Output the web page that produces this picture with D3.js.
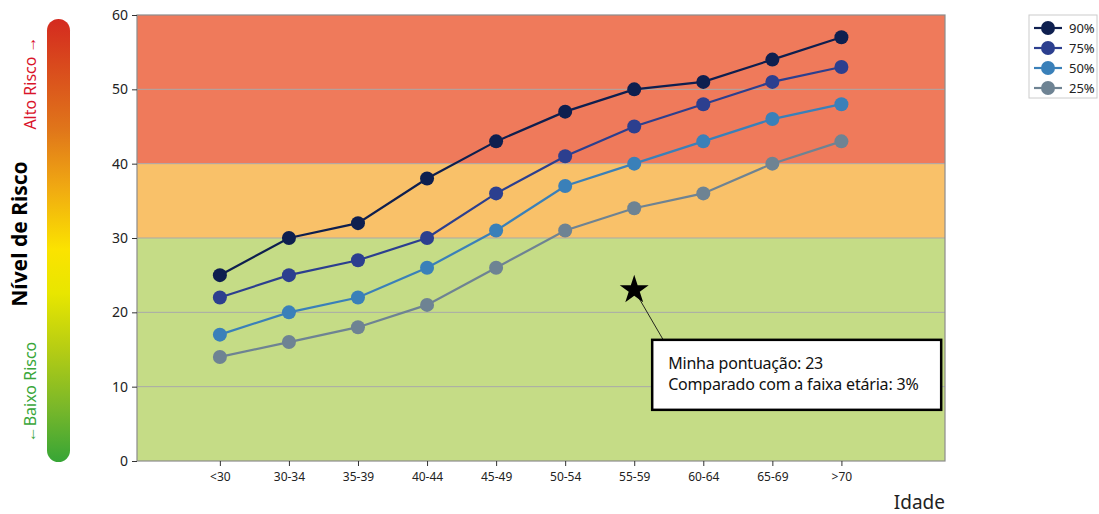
<!DOCTYPE html>
<html>
<head>
<meta charset="utf-8">
<script src="https://cdn.jsdelivr.net/npm/d3@7"></script>
<style>
  body { margin: 0; background: #fff; font-family: "Noto Sans", sans-serif; }
  .tick text { font-family: "Noto Sans", sans-serif; }
</style>
</head>
<body>
<div id="container"></div>
<script>
// data
var ageGroups = ["<30", "30-34", "35-39", "40-44", "45-49", "50-54", "55-59", "60-64", "65-69", ">70"];
var p90 = [25, 30, 32, 38, 43, 47, 50, 51, 54, 57];
var p75 = [22, 25, 27, 30, 36, 41, 45, 48, 51, 53];
var p50 = [17, 20, 22, 26, 31, 37, 40, 43, 46, 48];
var p25 = [14, 16, 18, 21, 26, 31, 34, 36, 40, 43];
var seriesNames = ["90%", "75%", "50%", "25%"];
var seriesColors = ["#0e1f4f", "#2c3f8f", "#3a80b9", "#6e8393"];
var yTicks = [0, 10, 20, 30, 40, 50, 60];
var bands = [[0, 30, "#c5dc86"], [30, 40, "#f9c169"], [40, 60, "#ef7a5b"]];
var myScore = 23, myGroup = "55-59";
var noteLines = ["Minha pontuação: 23", "Comparado com a faixa etária: 3%"];

var width = 1099, height = 514;
var margin = {top: 15, right: 154, bottom: 53, left: 137};
var w = width - margin.left - margin.right;
var h = height - margin.top - margin.bottom;

var svg = d3.select("#container").append("svg")
    .attr("width", width).attr("height", height);

var g = svg.append("g").attr("transform", "translate(" + margin.left + "," + margin.top + ")");

var x = d3.scaleLinear().domain([-1.2, 10.5]).range([0, w]);
var y = d3.scaleLinear().domain([0, 60]).range([h, 0]);

// risk bands
g.selectAll(".band").data(bands).enter().append("rect")
    .attr("x", 0).attr("width", w)
    .attr("y", function(d) { return y(d[1]); })
    .attr("height", function(d) { return y(d[0]) - y(d[1]); })
    .attr("fill", function(d) { return d[2]; });

// grid
g.selectAll(".grid").data(yTicks.slice(1, -1)).enter().append("line")
    .attr("x1", 0).attr("x2", w)
    .attr("y1", function(d) { return y(d); }).attr("y2", function(d) { return y(d); })
    .attr("stroke", "#a9a9a9").attr("stroke-width", 1);

// frame
g.append("rect").attr("width", w).attr("height", h)
    .attr("fill", "none").attr("stroke", "#8c8c8c").attr("stroke-width", 1.2);

// axes
var yAxis = d3.axisLeft(y).tickValues(yTicks).tickSize(5).tickPadding(4);
var xAxis = d3.axisBottom(x).tickValues(d3.range(ageGroups.length))
    .tickFormat(function(i) { return ageGroups[i]; }).tickSize(5).tickPadding(6);

var ya = g.append("g").call(yAxis);
ya.select(".domain").remove();
ya.selectAll("line").attr("stroke", "#333");
ya.selectAll("text").style("font-size", "14px").attr("fill", "#222");

var xa = g.append("g").attr("transform", "translate(0," + h + ")").call(xAxis);
xa.select(".domain").remove();
xa.selectAll("line").attr("stroke", "#333");
xa.selectAll("text").style("font-size", "12px").attr("fill", "#222");

g.append("text").attr("x", w).attr("y", h + 48).attr("text-anchor", "end")
    .style("font-size", "19px").attr("fill", "#222").text("Idade");

// lines
var allSeries = [p90, p75, p50, p25];
var line = d3.line().x(function(d, i) { return x(i); }).y(function(d) { return y(d); });

allSeries.slice().reverse().forEach(function(s, k) {
    var idx = allSeries.length - 1 - k;
    g.append("path").datum(s).attr("d", line)
        .attr("fill", "none").attr("stroke", seriesColors[idx]).attr("stroke-width", 2.2);
    g.selectAll(".pt" + idx).data(s).enter().append("circle")
        .attr("cx", function(d, i) { return x(i); })
        .attr("cy", function(d) { return y(d); })
        .attr("r", 7).attr("fill", seriesColors[idx]);
});

// my score star + annotation
var sx = x(ageGroups.indexOf(myGroup)), sy = y(myScore);
var boxX = x(6.26), boxY = y(16.3), boxW = 289, boxH = 70;
g.append("line").attr("x1", sx).attr("y1", sy).attr("x2", sx + 29).attr("y2", boxY)
    .attr("stroke", "#111").attr("stroke-width", 0.9);
g.append("path").attr("d", d3.symbol().type(d3.symbolStar).size(260)())
    .attr("transform", "translate(" + sx + "," + sy + ")").attr("fill", "#000");
g.append("rect").attr("x", boxX).attr("y", boxY).attr("width", boxW).attr("height", boxH)
    .attr("fill", "#fff").attr("stroke", "#000").attr("stroke-width", 2.5);
g.selectAll(".note").data(noteLines).enter().append("text")
    .attr("x", boxX + 16).attr("y", function(d, i) { return boxY + 29 + i * 21; })
    .style("font-size", "16px").style("letter-spacing", "-0.2px")
    .attr("fill", "#111").text(function(d) { return d; });

// legend
var lg = svg.append("g").attr("transform", "translate(1029,15)");
lg.append("rect").attr("width", 68).attr("height", 83)
    .attr("fill", "#fff").attr("stroke", "#ccc").attr("stroke-width", 1);
seriesNames.forEach(function(n, i) {
    var yy = 13 + i * 20;
    lg.append("line").attr("x1", 5).attr("x2", 33).attr("y1", yy).attr("y2", yy)
        .attr("stroke", seriesColors[i]).attr("stroke-width", 2.2);
    lg.append("circle").attr("cx", 19).attr("cy", yy).attr("r", 7).attr("fill", seriesColors[i]);
    lg.append("text").attr("x", 40).attr("y", yy + 5).style("font-size", "13px")
        .attr("fill", "#222").text(n);
});

// risk gradient bar
var defs = svg.append("defs");
var grad = defs.append("linearGradient").attr("id", "riskGrad")
    .attr("x1", 0).attr("y1", 0).attr("x2", 0).attr("y2", 1);
[[0, "#d42a1f"], [0.25, "#e0761a"], [0.38, "#f0a912"], [0.52, "#fbe300"], [0.62, "#e8e600"],
 [0.75, "#b4cc14"], [0.88, "#78b72a"], [1, "#37a536"]].forEach(function(s) {
    grad.append("stop").attr("offset", s[0]).attr("stop-color", s[1]);
});
svg.append("rect").attr("x", 47).attr("y", 19).attr("width", 23).attr("height", 443)
    .attr("rx", 11.5).attr("fill", "url(#riskGrad)");

svg.append("text").attr("transform", "translate(27,234) rotate(-90)")
    .attr("text-anchor", "middle").style("font-size", "21px").style("font-weight", "bold")
    .attr("fill", "#000").text("Nível de Risco");
svg.append("text").attr("transform", "translate(36,83) rotate(-90)")
    .attr("text-anchor", "middle").style("font-size", "16px")
    .attr("fill", "#d9152b").text("Alto Risco →");
svg.append("text").attr("transform", "translate(36,392) rotate(-90)")
    .attr("text-anchor", "middle").style("font-size", "16px")
    .attr("fill", "#3aa63a").text("←Baixo Risco");
</script>
</body>
</html>
